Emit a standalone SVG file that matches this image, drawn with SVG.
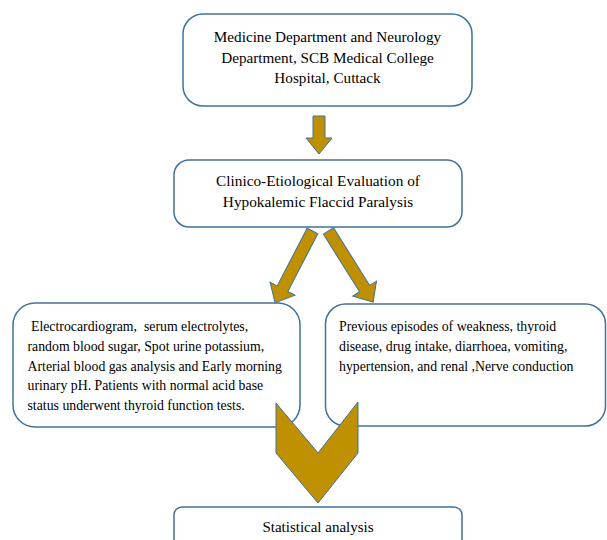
<svg xmlns="http://www.w3.org/2000/svg" width="607" height="540" viewBox="0 0 607 540">
<style>
.box{fill:#ffffff;stroke:#41719C;stroke-width:1.5}
.arr{fill:#BF9000;stroke:#41719C;stroke-width:1}
text{font-family:"Liberation Serif","Times New Roman",serif;fill:#000000}
.c{text-anchor:middle;font-size:15.2px}
.s{font-size:13.8px}
</style>
<rect width="607" height="540" fill="#ffffff"/>
<g id="n1">
<rect class="box" x="183" y="14" width="289" height="92" rx="20" ry="20"/>
<text class="c" x="327.5" y="42">Medicine Department and Neurology</text>
<text class="c" x="327.5" y="62.5">Department, SCB Medical College</text>
<text class="c" x="327.5" y="83">Hospital, Cuttack</text>
</g>
<g id="n2">
<rect class="box" x="174" y="160" width="288" height="67" rx="15" ry="15"/>
<text class="c" x="318" y="186" style="font-size:15.3px">Clinico-Etiological Evaluation of</text>
<text class="c" x="318" y="206.5" style="font-size:15.3px">Hypokalemic  Flaccid Paralysis</text>
</g>
<g id="n3">
<rect class="box" x="13" y="303" width="287" height="124" rx="22" ry="22"/>
<text class="s" x="27.5" y="331" xml:space="preserve"> Electrocardiogram,  serum electrolytes,</text>
<text class="s" x="27.5" y="351">random blood sugar, Spot urine potassium,</text>
<text class="s" x="27.5" y="370.5">Arterial  blood gas analysis  and Early morning</text>
<text class="s" x="27.5" y="390">urinary pH. Patients with normal acid base</text>
<text class="s" x="27.5" y="409.5">status underwent thyroid  function tests.</text>
</g>
<g id="n4">
<rect class="box" x="325.5" y="304" width="280" height="122" rx="20" ry="20"/>
<text class="s" x="339" y="331">Previous episodes of weakness, thyroid</text>
<text class="s" x="339" y="351">disease, drug intake, diarrhoea, vomiting,</text>
<text class="s" x="339" y="370.5">hypertension,  and renal ,Nerve conduction</text>
</g>
<g id="n5">
<rect class="box" x="174" y="507" width="288" height="60" rx="8" ry="8"/>
<text class="c" x="318" y="532" style="font-size:15px">Statistical analysis</text>
</g>
<g id="connectors">
<polygon class="arr" points="313,116 325,116 325,138 332,138 319,154 306,138 313,138"/>
<polygon class="arr" transform="translate(312.5,231) rotate(117.5)" points="0,-6 65,-6 65,-14 81,0 65,14 65,6 0,6"/>
<polygon class="arr" transform="translate(328.5,231) rotate(57.9)" points="0,-6 68,-6 68,-14 84,0 68,14 68,6 0,6"/>
<polygon class="arr" points="276,403 318,453 358,402 358,453 318,503 276,453"/>
</g>
</svg>
